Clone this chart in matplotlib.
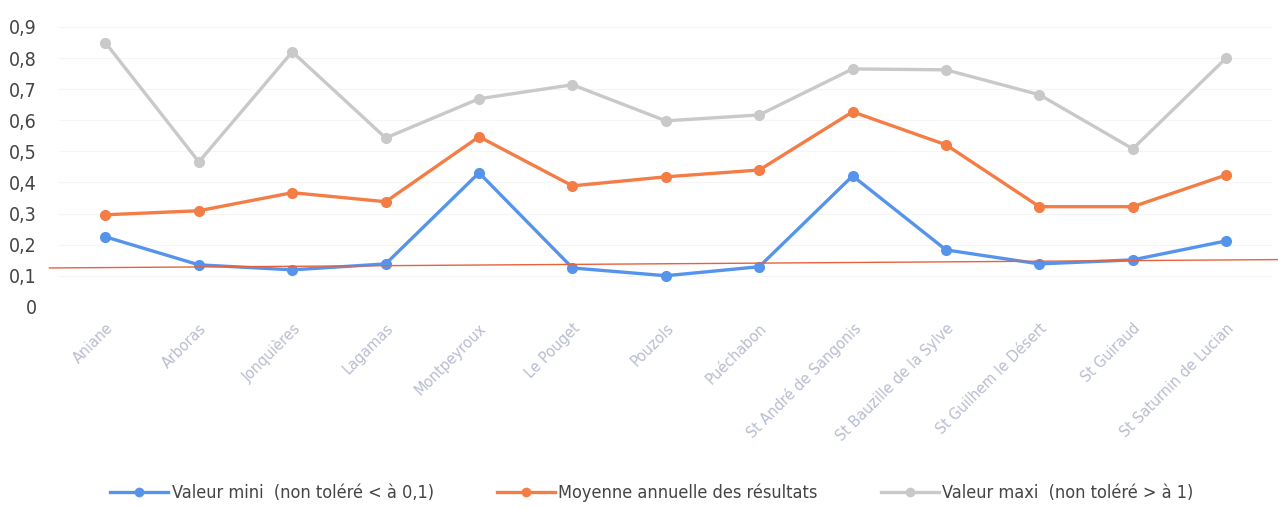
import matplotlib.pyplot as plt

communes = ["Aniane", "Arboras", "Jonquières", "Lagamas", "Montpeyroux", "Le Pouget",
            "Pouzols", "Puéchabon", "St André de Sangonis", "St Bauzille de la Sylve",
            "St Guilhem le Désert", "St Guiraud", "St Saturnin de Lucian"]

val_mini = [0.225, 0.135, 0.119, 0.138, 0.431, 0.125, 0.100, 0.129, 0.421, 0.183, 0.138, 0.151, 0.212]
moyenne = [0.296, 0.309, 0.367, 0.338, 0.547, 0.389, 0.418, 0.440, 0.627, 0.521, 0.322, 0.322, 0.424]
val_maxi = [0.849, 0.466, 0.820, 0.543, 0.669, 0.714, 0.598, 0.617, 0.765, 0.762, 0.682, 0.508, 0.800]

# hand-drawn red threshold line (ends)
seuil_x = [-0.6, 12.6]
seuil_y = [0.125, 0.152]

plt.rcParams['font.family'] = ['DejaVu Sans']
plt.rcParams['font.stretch'] = 'condensed'

fig = plt.figure(figsize=(12.78, 5.08), dpi=100)
ax = fig.add_axes([0.046, 0.396, 0.95, 0.551])

x = range(len(communes))
ax.plot(x, val_maxi, "o-", color='#c9c9c9', lw=2.4, ms=7, zorder=3)
ax.plot(x, moyenne, "o-", color='#f47d46', lw=2.4, ms=7, zorder=3)
ax.plot(x, val_mini, "o-", color='#5694ec', lw=2.4, ms=7, zorder=3)
ax.plot(seuil_x, seuil_y, "-", color='#e8603c', lw=1.0, zorder=4, clip_on=False)

ax.set_xlim(-0.5, 12.5)
ax.set_ylim(0, 0.9)
ax.set_yticks([i / 10 for i in range(10)])
ax.set_yticklabels(["0"] + ["0,%d" % i for i in range(1, 10)], fontsize=14, color='#444444')
ax.set_xticks(list(x))
ax.set_xticklabels(communes, rotation=45, ha='right', rotation_mode='anchor',
                   fontsize=11.5, color='#b9bdd0')
ax.tick_params(axis='y', length=0, pad=16)
ax.tick_params(axis='x', length=0, pad=10)
ax.grid(axis='y', color='#f5f5f5', lw=0.8)
for s in ax.spines.values():
    s.set_visible(False)

h_mini, = ax.plot([], [], "o-", color='#5694ec', lw=2.4, ms=6)
h_moy, = ax.plot([], [], "o-", color='#f47d46', lw=2.4, ms=6)
h_max, = ax.plot([], [], "o-", color='#c9c9c9', lw=2.4, ms=6)
leg = fig.legend([h_mini, h_moy, h_max],
                 ["Valeur mini  (non toléré < à 0,1)", "Moyenne annuelle des résultats",
                  "Valeur maxi  (non toléré > à 1)"],
                 loc='lower center', bbox_to_anchor=(0.51, -0.02), ncol=3, frameon=False,
                 fontsize=13, handlelength=3.2, handletextpad=0.2, columnspacing=3.5)
for t in leg.get_texts():
    t.set_color('#444444')

fig.savefig('out.png', dpi=100)
